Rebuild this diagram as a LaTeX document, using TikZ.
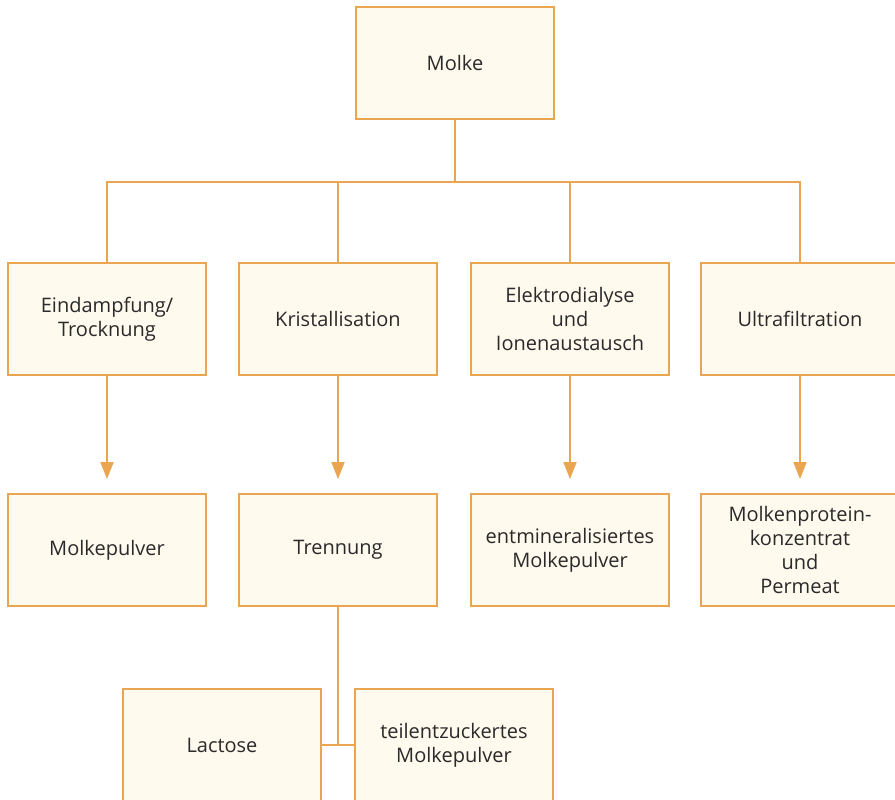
\documentclass[tikz,border=0pt]{standalone}
\usepackage{fontspec}
\setmainfont{Open Sans}
\usetikzlibrary{arrows.meta}
\definecolor{edge}{HTML}{E9A550}
\definecolor{cream}{HTML}{FFFAEE}
\definecolor{txt}{HTML}{2A2A2A}
\tikzset{
  box/.style={draw=edge, line width=2pt, fill=cream, minimum width=198pt, minimum height=112pt,
    inner sep=0pt, align=center, text=txt, font=\fontsize{20}{24}\selectfont},
  conn/.style={draw=edge, line width=2pt},
  arr/.style={conn, -{Triangle[width=13pt,length=17pt]}}
}
\begin{document}
\begin{tikzpicture}[x=1pt,y=-1pt]
\useasboundingbox (0,0) rectangle (895,800);
\clip (0,0) rectangle (895,800);
\fill[white] (0,0) rectangle (895,800);
\node[box] (molke) at (455,63) {Molke};
\node[box] (e1) at (107,319) {Eindampfung/\\Trocknung};
\node[box] (k1) at (338,319) {Kristallisation};
\node[box] (el1) at (570,319) {Elektrodialyse\\und\\Ionenaustausch};
\node[box] (u1) at (800,319) {Ultrafiltration};
\node[box] (e2) at (107,550) {Molkepulver};
\node[box] (k2) at (338,550) {Trennung};
\node[box] (el2) at (570,550) {entmineralisiertes\\Molkepulver};
\node[box] (u2) at (800,550) {Molkenprotein-\\konzentrat\\und\\Permeat};
\node[box] (lac) at (222,745) {Lactose};
\node[box] (teil) at (454,745) {teilentzuckertes\\Molkepulver};
\coordinate (bus) at (455,182);
\draw[conn] (molke.south) -- (molke.south |- bus);
\draw[conn] (e1.north) -- (e1.north |- bus) -- (u1.north |- bus) -- (u1.north);
\draw[conn] (k1.north) -- (k1.north |- bus);
\draw[conn] (el1.north) -- (el1.north |- bus);
\draw[arr] (e1.south) -- ([yshift=14pt]e2.north);
\draw[arr] (k1.south) -- ([yshift=14pt]k2.north);
\draw[arr] (el1.south) -- ([yshift=14pt]el2.north);
\draw[arr] (u1.south) -- ([yshift=14pt]u2.north);
\draw[conn] (k2.south) -- (k2.south |- lac.east);
\draw[conn] (lac.east) -- (teil.west);
\end{tikzpicture}
\end{document}
